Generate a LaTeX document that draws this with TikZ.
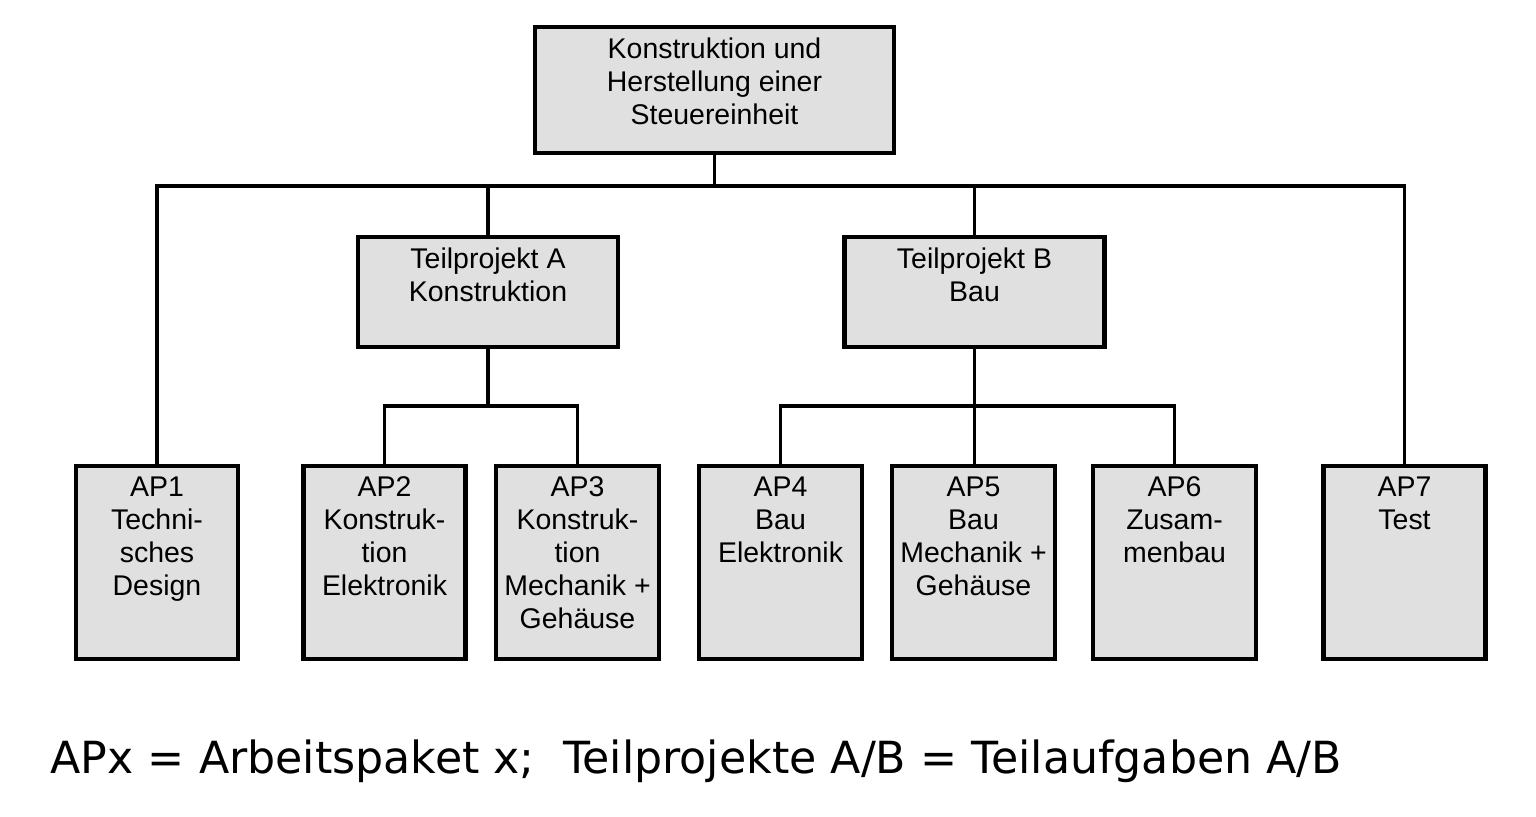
\documentclass[tikz,border=0pt]{standalone}
\usepackage{fontspec}
\setmainfont{Liberation Sans}
\newfontfamily\legendfont{DejaVu Sans}

\begin{document}
\begin{tikzpicture}[
    pkbox/.style={draw=black,fill=black!12,line width=1.2pt,inner sep=0pt},
    pktext/.style={anchor=north,align=center,inner sep=0pt,yshift=-0.12cm,
                   font=\fontsize{8.1}{9.4}\selectfont},
    conn/.style={line width=1pt}]

\useasboundingbox (0,0) rectangle (15.36,8.16);

% top level
\node[pkbox,minimum width=3.59cm,minimum height=1.26cm,
      label={[pktext]north:Konstruktion und\\Herstellung einer\\Steuereinheit}]
      (top) at (7.145,7.26) {};

% sub projects
\node[pkbox,minimum width=2.60cm,minimum height=1.10cm,
      label={[pktext]north:Teilprojekt A\\Konstruktion}] (tpa) at (4.88,5.24) {};
\node[pkbox,minimum width=2.60cm,minimum height=1.10cm,
      label={[pktext]north:Teilprojekt B\\Bau}] (tpb) at (9.745,5.24) {};

% work packages
\node[pkbox,minimum width=1.62cm,minimum height=1.93cm,
      label={[pktext]north:AP1\\Techni-\\sches\\Design}] (ap1) at (1.57,2.535) {};
\node[pkbox,minimum width=1.62cm,minimum height=1.93cm,
      label={[pktext]north:AP2\\Konstruk-\\tion\\Elektronik}] (ap2) at (3.845,2.535) {};
\node[pkbox,minimum width=1.63cm,minimum height=1.93cm,
      label={[pktext]north:AP3\\Konstruk-\\tion\\Mechanik +\\Gehäuse}] (ap3) at (5.775,2.535) {};
\node[pkbox,minimum width=1.63cm,minimum height=1.93cm,
      label={[pktext]north:AP4\\Bau\\Elektronik}] (ap4) at (7.805,2.535) {};
\node[pkbox,minimum width=1.63cm,minimum height=1.93cm,
      label={[pktext]north:AP5\\Bau\\Mechanik +\\Gehäuse}] (ap5) at (9.735,2.535) {};
\node[pkbox,minimum width=1.63cm,minimum height=1.93cm,
      label={[pktext]north:AP6\\Zusam-\\menbau}] (ap6) at (11.745,2.535) {};
\node[pkbox,minimum width=1.62cm,minimum height=1.93cm,
      label={[pktext]north:AP7\\Test}] (ap7) at (14.045,2.535) {};

% connectors
\coordinate (busTop) at (7.145,6.30);
\coordinate (busSub) at (0,4.10);

\draw[conn] (ap1.north) |- (busTop) -| (ap7.north);
\draw[conn] (top.south) -- (busTop);
\draw[conn] (tpa.north) -- (tpa.north |- busTop);
\draw[conn] (tpb.north) -- (tpb.north |- busTop);

\draw[conn] (ap2.north) |- (tpa.south |- busSub) -| (ap3.north);
\draw[conn] (tpa.south) -- (tpa.south |- busSub);
\draw[conn] (ap4.north) |- (tpb.south |- busSub) -| (ap6.north);
\draw[conn] (tpb.south) -- (tpb.south |- ap5.north);

\node[anchor=base west,inner sep=0pt,font=\legendfont\fontsize{12.6}{15}\selectfont]
      (legend) at (0.50,0.43) {APx = Arbeitspaket x;\ \ Teilprojekte A/B = Teilaufgaben A/B};

\end{tikzpicture}
\end{document}
